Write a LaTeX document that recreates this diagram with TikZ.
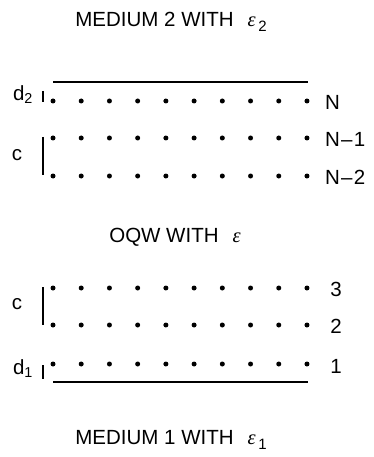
\documentclass[tikz,border=0pt]{standalone}
\usepackage{fontspec}
\setmainfont{Liberation Sans}
\newfontfamily\grk{Liberation Serif}
\newcommand{\eps}[1]{{\grk\itshape ε}\raisebox{-0.45ex}{\fontsize{15}{17}\selectfont\,#1}}
\newcommand{\dsh}{\kern1.2pt–\kern1.2pt}
\begin{document}
\begin{tikzpicture}[x=1pt,y=-1pt,
  lbl/.style={inner sep=0pt,font=\fontsize{20.5}{24}\selectfont},
  dot/.style={circle,fill=black,inner sep=0pt,minimum size=5pt},
  bar/.style={line width=1.8pt},
  bracket/.style={line width=1.5pt}]
\useasboundingbox (0,0) rectangle (373,457);
% titles
\node[lbl] (t2) at (171,22) {MEDIUM 2 WITH\hspace{14pt}\eps{2}};
\node[lbl] (tq) at (175,237) {OQW WITH\hspace{14pt}{\grk\itshape ε}};
\node[lbl] (t1) at (171,440) {MEDIUM 1 WITH\hspace{14pt}\eps{1}};
% boundary lines
\coordinate (l2a) at (53,82); \coordinate (l2b) at (308,82);
\coordinate (l1a) at (53,382); \coordinate (l1b) at (308,382);
\draw[bar] (l2a) -- (l2b);
\draw[bar] (l1a) -- (l1b);
% rows of dots
\foreach \y in {101,138,176,288,325,364}{
  \foreach \i in {0,...,9}{
    \node[dot] at (53+28.22*\i,\y) {};
  }
}
% row labels
\node[lbl,anchor=west] (rN) at (325,102) {N};
\node[lbl,anchor=west] (rN1) at (325,139) {N\dsh 1};
\node[lbl,anchor=west] (rN2) at (325,177) {N\dsh 2};
\node[lbl] (r3) at (336,289) {3};
\node[lbl] (r2) at (336,326) {2};
\node[lbl] (r1) at (336,366) {1};
% spacing marks
\coordinate (d2a) at (43,91); \coordinate (d2b) at (43,102);
\draw[bracket] (d2a) -- (d2b);
\node[lbl] (d2) at (23,95) {d\textsubscript{2}};
\coordinate (c2a) at (43,137); \coordinate (c2b) at (43,175);
\draw[bracket] (c2a) -- (c2b);
\node[lbl] (c2) at (17,155) {c};
\coordinate (c1a) at (43,287); \coordinate (c1b) at (43,325);
\draw[bracket] (c1a) -- (c1b);
\node[lbl] (c1) at (17,304) {c};
\coordinate (d1a) at (43,365); \coordinate (d1b) at (43,379);
\draw[bracket] (d1a) -- (d1b);
\node[lbl] (d1) at (23,369) {d\textsubscript{1}};
\end{tikzpicture}
\end{document}
